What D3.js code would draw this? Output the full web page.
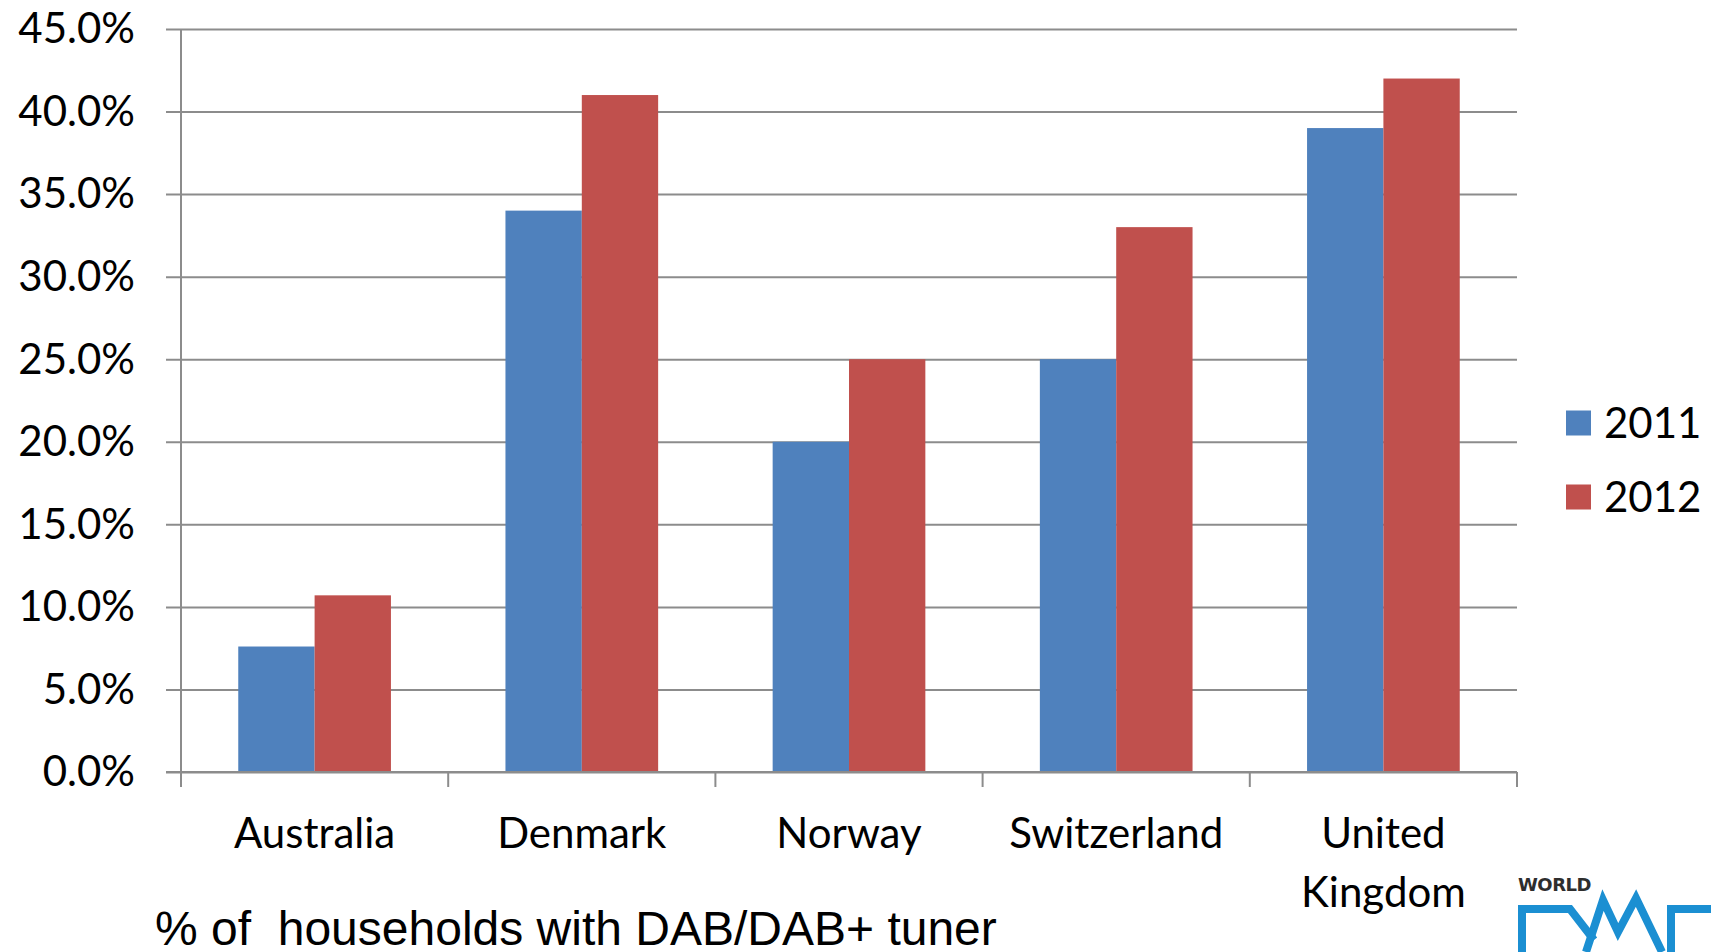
<!DOCTYPE html>
<html>
<head>
<meta charset="utf-8">
<script src="https://cdn.jsdelivr.net/npm/d3@7"></script>
<style>
  html, body { margin: 0; padding: 0; background: #ffffff; overflow: hidden; }
  svg { display: block; }
</style>
</head>
<body>
<svg id="chart" width="1711" height="952"></svg>
<script>
// Household DAB/DAB+ tuner penetration by country, 2011 vs 2012
const countries = ["Australia", "Denmark", "Norway", "Switzerland", "United Kingdom"];
const seriesNames = ["2011", "2012"];
const values2011 = [7.6, 34.0, 20.0, 25.0, 39.0];
const values2012 = [10.7, 41.0, 25.0, 33.0, 42.0];
const yTicks = [0, 5, 10, 15, 20, 25, 30, 35, 40, 45];
const seriesColors = ["#4F81BD", "#C0504D"];
const captionText = "% of  households with DAB/DAB+ tuner";

const svg = d3.select("#chart");
const plotLeft = 181, plotRight = 1517, plotTop = 29, plotBottom = 772;
const labelFont = "Lato, 'Open Sans', sans-serif";

const x0 = d3.scaleBand().domain(countries).range([plotLeft, plotRight]).padding(0);
const bw = x0.bandwidth();
// two bars with a gap of 1.5 bar widths between groups
const x1 = d3.scaleBand().domain(seriesNames).range([bw * 0.75 / 3.5, bw * 2.75 / 3.5]).padding(0);
const y = d3.scaleLinear().domain([0, 45]).range([plotBottom, plotTop]);

const rows = countries.map((c, i) => ({ country: c, vals: [values2011[i], values2012[i]] }));

// horizontal gridlines with outward ticks on the value axis
const yAxis = d3.axisLeft(y).tickValues(yTicks).tickSize(-(plotRight - plotLeft)).tickFormat(d => d.toFixed(1) + "%");
const gy = svg.append("g").attr("transform", `translate(${plotLeft},0)`).call(yAxis);
gy.select(".domain").remove();
gy.selectAll(".tick line")
  .attr("x1", -15)
  .attr("stroke", "#8c8c8c")
  .attr("stroke-width", 2);
gy.selectAll(".tick text")
  .attr("x", -46)
  .attr("dy", "0.33em")
  .attr("fill", "#000")
  .style("font-family", labelFont)
  .style("font-size", "42px");

// bars
const groups = svg.append("g").selectAll("g")
  .data(rows).join("g")
  .attr("transform", d => `translate(${x0(d.country)},0)`);
groups.selectAll("rect")
  .data(d => d.vals.map((v, k) => ({ key: seriesNames[k], v, k })))
  .join("rect")
  .attr("x", d => x1(d.key))
  .attr("width", x1.bandwidth())
  .attr("y", d => y(d.v))
  .attr("height", d => y(0) - y(d.v))
  .attr("fill", d => seriesColors[d.k]);

// value axis line
svg.append("line")
  .attr("x1", plotLeft).attr("x2", plotLeft)
  .attr("y1", y(45)).attr("y2", y(0))
  .attr("stroke", "#8c8c8c").attr("stroke-width", 2);

// category axis with ticks between groups
const boundaries = countries.map(c => x0(c)).concat([plotRight]);
svg.append("line")
  .attr("x1", plotLeft - 15).attr("x2", plotRight)
  .attr("y1", y(0)).attr("y2", y(0))
  .attr("stroke", "#8c8c8c").attr("stroke-width", 2);
svg.append("g").selectAll("line")
  .data(boundaries).join("line")
  .attr("x1", d => d).attr("x2", d => d)
  .attr("y1", y(0)).attr("y2", y(0) + 15)
  .attr("stroke", "#8c8c8c").attr("stroke-width", 2);

// category labels (wrapped on spaces for long names)
const catLabels = svg.append("g").selectAll("text")
  .data(countries).join("text")
  .attr("x", d => x0(d) + bw / 2)
  .attr("y", 848)
  .attr("text-anchor", "middle")
  .attr("fill", "#000")
  .style("font-family", labelFont)
  .style("font-size", "42px");
catLabels.each(function (d) {
  const words = d.split(" ");
  const t = d3.select(this);
  const cx = x0(d) + bw / 2;
  words.forEach((w, i) => {
    t.append("tspan").attr("x", cx).attr("dy", i === 0 ? 0 : 59).text(w);
  });
});

// legend
const legend = svg.append("g").selectAll("g")
  .data(seriesNames).join("g")
  .attr("transform", (d, i) => `translate(1566,${423 + i * 74})`);
legend.append("rect")
  .attr("x", 0).attr("y", -12.5).attr("width", 25).attr("height", 25)
  .attr("fill", (d, i) => seriesColors[i]);
legend.append("text")
  .attr("x", 38).attr("y", 0).attr("dy", "0.36em")
  .attr("fill", "#000")
  .style("font-family", labelFont)
  .style("font-size", "42px")
  .text(d => d);

// caption under the chart
svg.append("text")
  .attr("x", 155).attr("y", 945)
  .attr("fill", "#000")
  .style("font-family", "'Liberation Sans', Arial, sans-serif")
  .style("font-size", "48px")
  .style("white-space", "pre")
  .attr("xml:space", "preserve")
  .text(captionText);

// WorldDMB mark in the corner
const logo = svg.append("g");
logo.append("text")
  .attr("x", 1518).attr("y", 891)
  .attr("fill", "#2e2e2e")
  .style("font-family", "'DejaVu Sans', sans-serif")
  .style("font-weight", "bold")
  .style("font-size", "18px")
  .style("letter-spacing", "-0.5px")
  .text("WORLD");
const blue = "#1b8fd2";
logo.append("path")
  .attr("d", "M1522,952 L1522,909 L1570,909 L1594,940")
  .attr("fill", "none").attr("stroke", blue).attr("stroke-width", 8).attr("stroke-linejoin", "miter");
logo.append("path")
  .attr("d", "M1586,952 L1603,900 L1618,932 L1636,898 L1662,952")
  .attr("fill", "none").attr("stroke", blue).attr("stroke-width", 8).attr("stroke-linejoin", "miter");
logo.append("path")
  .attr("d", "M1711,909 L1671,909 L1671,952")
  .attr("fill", "none").attr("stroke", blue).attr("stroke-width", 8);
</script>
</body>
</html>
